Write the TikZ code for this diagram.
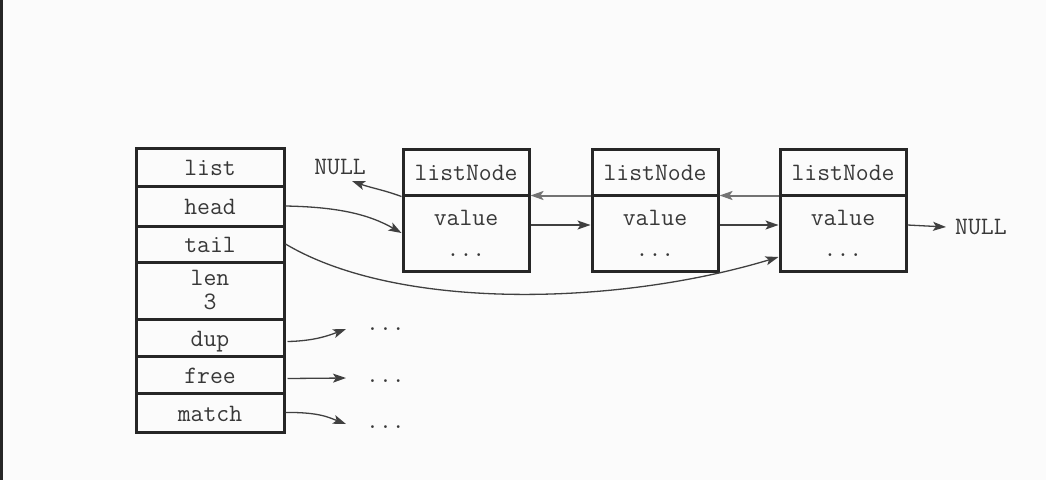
\documentclass[tikz,border=0pt]{standalone}
\usepackage{fontspec}
\usetikzlibrary{arrows.meta}
\begin{document}
\begin{tikzpicture}[x=1pt,y=-1pt,
  txt/.style={font=\ttfamily\fontsize{25}{25}\selectfont, text=black!78},
  cell/.style={draw=black!85, line width=3pt, minimum width=148pt, inner sep=0pt, txt, text height=18pt, text depth=1pt},
  hcell/.style={draw=black!85, line width=3pt, minimum width=126pt, minimum height=46pt, inner sep=0pt, txt, text height=18pt, text depth=1pt},
  bcell/.style={draw=black!85, line width=3pt, minimum width=126pt, minimum height=76pt, inner sep=0pt, align=center, font=\ttfamily\fontsize{25}{31}\selectfont, text=black!78},
  conn/.style={draw=black!75, line width=1.3pt, -{Stealth[length=13pt,width=9pt,inset=3pt]}},
  bconn/.style={draw=black!55, line width=2pt, -{Stealth[length=13pt,width=9pt,inset=3pt]}},
  lab/.style={txt, inner sep=0pt}
]
\fill[white!98.5!black] (0,0) rectangle (1046,480);
\fill[black!85] (0,0) rectangle (2.5,480);

% list struct
\node[cell, minimum height=38pt] (list) at (210,167) {list};
\node[cell, minimum height=40pt] (head) at (210,206) {head};
\node[cell, minimum height=36pt] (tail) at (210,244) {tail};
\node[cell, minimum height=57pt, align=center, text height=, text depth=, font=\ttfamily\fontsize{25}{24}\selectfont] (len) at (210,290.5) {\raisebox{-3pt}{\parbox{60pt}{\centering len\\3}}};
\node[cell, minimum height=37pt] (dup) at (210,337.5) {dup};
\node[cell, minimum height=37pt] (free) at (210,374.5) {free};
\node[cell, minimum height=39pt] (match) at (210,412.5) {match};

% list nodes
\node[hcell] (n1h) at (466,172) {listNode};
\node[bcell] (n1b) at (466,233) {value\\...};
\node[hcell] (n2h) at (655,172) {listNode};
\node[bcell] (n2b) at (655,233) {value\\...};
\node[hcell] (n3h) at (843,172) {listNode};
\node[bcell] (n3b) at (843,233) {value\\...};

% NULL labels
\node[lab] (nullL) at (340,167) {NULL};
\node[lab, anchor=west] (nullR) at (955,227) {NULL};

% dots
\node[lab, anchor=base west] (d1) at (366,330) {...};
\node[lab, anchor=base west] (d2) at (366,382) {...};
\node[lab, anchor=base west] (d3) at (366,428) {...};
\coordinate (e1) at (346,329);
\coordinate (e2) at (346,378);
\coordinate (e3) at (346,424);
\coordinate (nl) at (352,181);

% connectors
\draw[conn] (n1h.south west) to[out=160,in=-20] (nl);
\draw[conn] (head.east) .. controls (340,207) and (370,215) .. (n1b.west);
\draw[conn] (tail.east) .. controls (400,312) and (620,305) .. ([yshift=-24pt]n3b.west);
\draw[conn] ([yshift=8pt]n1b.east) -- ([yshift=8pt]n2b.west);
\draw[conn] ([yshift=8pt]n2b.east) -- ([yshift=8pt]n3b.west);
\draw[conn] ([yshift=8pt]n3b.east) -- ([xshift=-9pt]nullR.west);
\draw[bconn] ([yshift=1pt]n2h.south west) -- ([yshift=1pt]n1h.south east);
\draw[bconn] ([yshift=1pt]n3h.south west) -- ([yshift=1pt]n2h.south east);

\draw[conn] ([xshift=2pt,yshift=-4pt]dup.east) .. controls (315,341) and (330,335) .. (e1);
\draw[conn] ([xshift=2pt,yshift=-4pt]free.east) -- (e2);
\draw[conn] (match.east) .. controls (320,412) and (330,418) .. (e3);
\end{tikzpicture}
\end{document}
